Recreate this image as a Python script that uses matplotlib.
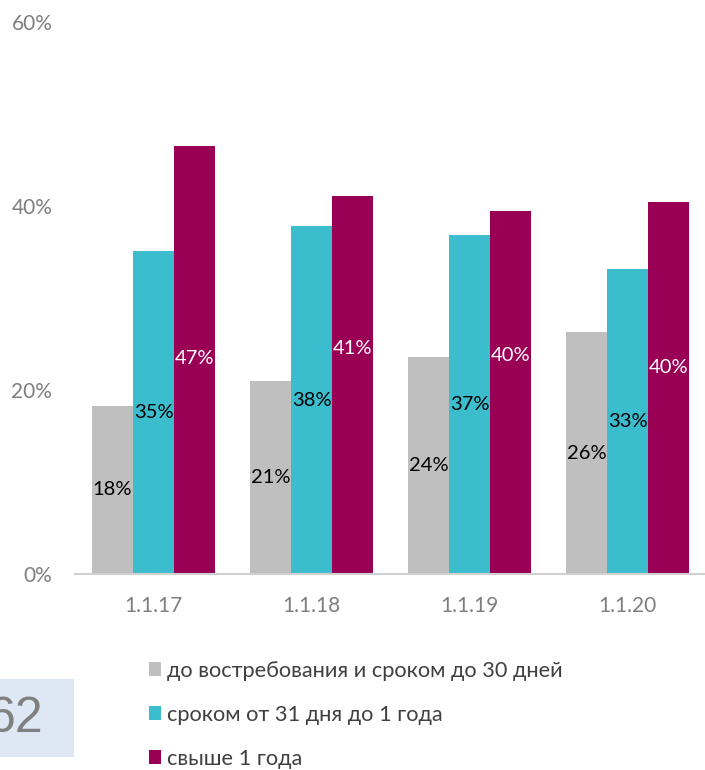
import matplotlib.pyplot as plt
from matplotlib.patches import Patch, Rectangle
import numpy as np

plt.rcParams['font.family'] = ['Lato', 'DejaVu Sans']

# Data
dates = ["1.1.17", "1.1.18", "1.1.19", "1.1.20"]
short_term = [18.3, 21.0, 23.6, 26.3]
mid_term = [35.1, 37.8, 36.8, 33.2]
long_term = [46.5, 41.1, 39.5, 40.4]
labels_short = ["18%", "21%", "24%", "26%"]
labels_mid = ["35%", "38%", "37%", "33%"]
labels_long = ["47%", "41%", "40%", "40%"]
# labels of the long-term bars sit a bit above the bar middle in the original
long_label_y = [23.4, 24.5, 23.7, 22.5]
series_names = ["до востребования и сроком до 30 дней",
                "сроком от 31 дня до 1 года",
                "свыше 1 года"]
colors = ["#BFBFBF", "#3CBDCE", "#990055"]

fig = plt.figure(figsize=(7.05, 7.7), dpi=100)
ax = fig.add_axes([74.5 / 705, (770 - 574) / 770, 632 / 705, 552 / 770])

x = np.arange(len(dates))
w = 0.26
b1 = ax.bar(x - w, short_term, w, color=colors[0])
b2 = ax.bar(x, mid_term, w, color=colors[1])
b3 = ax.bar(x + w, long_term, w, color=colors[2])

ax.bar_label(b1, labels=labels_short, label_type="center", fontsize=14.5, color="black")
ax.bar_label(b2, labels=labels_mid, label_type="center", fontsize=14.5, color="black")
for xi, yi, lab in zip(x + w, long_label_y, labels_long):
    ax.text(xi, yi, lab, ha="center", va="center", fontsize=14.5, color="white")

ax.set_xlim(-0.5, 3.5)
ax.set_ylim(0, 60)
ax.set_yticks([0, 20, 40, 60])
ax.set_yticklabels(["0%", "20%", "40%", "60%"])
ax.set_xticks(x)
ax.set_xticklabels(dates)
ax.tick_params(axis="both", length=0, labelsize=15, labelcolor="#7F7F7F")
ax.tick_params(axis="y", pad=16)
ax.tick_params(axis="x", pad=16)

for s in ["top", "right", "left"]:
    ax.spines[s].set_visible(False)
ax.spines["bottom"].set_color("#D0D0D0")
ax.spines["bottom"].set_linewidth(1.5)

# Legend
handles = [Patch(facecolor=c, edgecolor="none") for c in colors]
fig.legend(handles, series_names, loc="upper left", bbox_to_anchor=(140 / 705, 1 - 652 / 770),
           frameon=False, fontsize=15.7, labelcolor="#404040", handlelength=0.55, handleheight=0.55,
           handletextpad=0.3, labelspacing=1.1, borderaxespad=0)

# Page number box
fig.patches.append(Rectangle((0, 1 - 757 / 770), 74 / 705, 78 / 770, transform=fig.transFigure,
                             facecolor="#DDE8F4", edgecolor="none"))
fig.text(43 / 705, 1 - 719 / 770, "62", ha="right", va="center", fontsize=36,
         color="#808080", family="Liberation Sans")

fig.savefig("out.png", dpi=100)
